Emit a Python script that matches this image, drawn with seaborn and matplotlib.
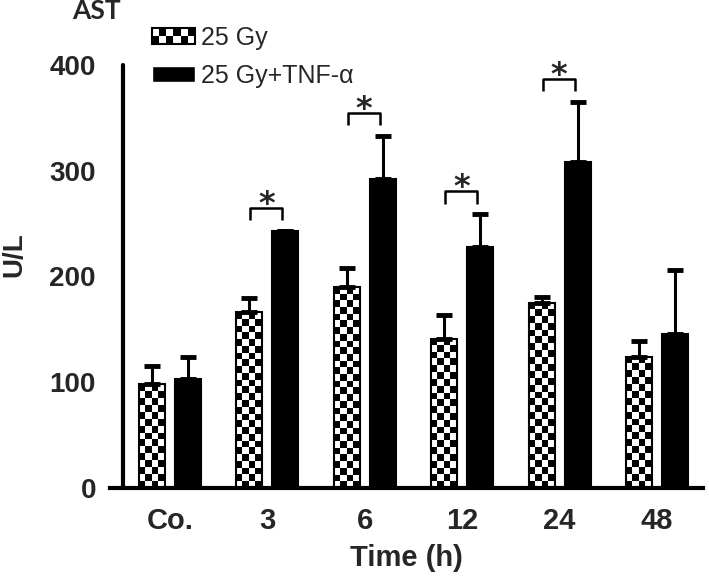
import matplotlib

matplotlib.use("Agg")

import matplotlib.pyplot as plt
import numpy as np
import pandas as pd
import seaborn as sns
from matplotlib.image import BboxImage
from matplotlib.legend_handler import HandlerBase
from matplotlib.patches import Patch, Rectangle
from matplotlib.transforms import Bbox, TransformedBbox


TIMES = ["Co.", "3", "6", "12", "24", "48"]
GROUPS = ["25 Gy", "25 Gy+TNF-α"]
AST_25GY = [98, 166, 190, 141, 175, 124]
SD_25GY = [17, 14, 18, 23, 6, 15]
AST_TNF = [103, 243, 292, 228, 308, 146]
SD_TNF = [21, 0, 41, 31, 57, 60]
SIGNIF = ["", "*", "*", "*", "*", ""]

NARROW = ["Liberation Sans Narrow", "Liberation Sans", "DejaVu Sans"]
CELL_PX = 6.8


def checker(rows, cols):
    r, c = np.indices((rows, cols))
    return ((r + c) % 2).astype(float)


class HandlerChecker(HandlerBase):
    def create_artists(self, legend, orig_handle, xdescent, ydescent,
                       width, height, fontsize, trans):
        box = TransformedBbox(Bbox.from_bounds(-xdescent, -ydescent, width, height), trans)
        img = BboxImage(box, cmap="gray", norm=plt.Normalize(0, 1),
                        interpolation="nearest", origin="lower")
        img.set_data(checker(2, 6))
        edge = Rectangle((-xdescent, -ydescent), width, height, facecolor="none",
                         edgecolor="black", linewidth=1.5, transform=trans)
        return [img, edge]


sns.set_style("white")
plt.rcParams["font.family"] = ["Liberation Sans", "DejaVu Sans"]

df = pd.DataFrame({
    "time": TIMES * 2,
    "group": [GROUPS[0]] * len(TIMES) + [GROUPS[1]] * len(TIMES),
    "ast": AST_25GY + AST_TNF,
})

fig = plt.figure(figsize=(7.09, 5.78), dpi=100)
W, H = 709, 578
ax = fig.add_axes([110 / W, 1 - 488 / H, (703 - 110) / W, (488 - 65) / H])

sns.barplot(data=df, x="time", y="ast", hue="group", order=TIMES, hue_order=GROUPS,
            palette=["white", "black"], saturation=1, width=0.74, gap=0.28,
            errorbar=None, edgecolor="black", linewidth=1.5, legend=False, ax=ax)

xlim = ((110 - 170) / 97.4, (703 - 170) / 97.4)
ax.set_xlim(*xlim)
ax.set_ylim(0, 400)

# checkerboard fill for the 25 Gy bars
px_x = ax.transData.transform((1, 0))[0] - ax.transData.transform((0, 0))[0]
px_y = ax.transData.transform((0, 1))[1] - ax.transData.transform((0, 0))[1]
for bar in ax.containers[0]:
    x0, w, h = bar.get_x(), bar.get_width(), bar.get_height()
    rows = max(1, int(round(h * px_y / CELL_PX)))
    cols = max(1, int(round(w * px_x / CELL_PX)))
    ax.imshow(checker(rows, cols), cmap="gray", vmin=0, vmax=1,
              extent=(x0, x0 + w, 0, h), origin="upper", aspect="auto",
              interpolation="nearest", zorder=1)
    bar.set_facecolor("none")
    bar.set_zorder(2)

# upper error bars
centers = []
for cont, sd in zip(ax.containers[:2], [SD_25GY, SD_TNF]):
    xs = np.array([b.get_x() + b.get_width() / 2 for b in cont])
    tops = np.array([b.get_height() for b in cont])
    centers.append((xs, tops + np.array(sd)))
    ax.errorbar(xs, tops, yerr=[np.zeros(len(sd)), sd], fmt="none", ecolor="black",
                elinewidth=2.2, capsize=5.8, capthick=3.5, zorder=3)

# significance brackets
for i, mark in enumerate(SIGNIF):
    if not mark:
        continue
    xa, xb = centers[0][0][i] + 0.01, centers[1][0][i] - 0.03
    top = max(centers[0][1][i], centers[1][1][i]) + 22
    ax.plot([xa, xa, xb, xb], [top - 12, top, top, top - 12], color="black",
            linewidth=1.8, solid_capstyle="butt", clip_on=False)
    ax.text((xa + xb) / 2, top - 5, mark, ha="center", va="baseline", fontsize=23,
            fontweight="bold", family="DejaVu Sans")

ax.set_xlim(*xlim)
ax.set_ylim(0, 400)

sns.despine(ax=ax)
ax.spines["left"].set_position(("axes", 13 / 593))
for side in ["left", "bottom"]:
    ax.spines[side].set_linewidth(3)
    ax.spines[side].set_color("black")
ax.spines["left"].set_capstyle("round")

ax.set_yticks([0, 100, 200, 300, 400])
ax.tick_params(axis="y", length=9.5, width=2.8, pad=10, labelsize=20, color="black")
ax.tick_params(axis="x", length=0, pad=14, labelsize=21)
for lab in ax.get_yticklabels() + ax.get_xticklabels():
    lab.set_fontweight("bold")
    lab.set_family(NARROW)

ax.set_xlabel("Time (h)", fontsize=21, fontweight="bold", family=NARROW, labelpad=6)
ax.set_ylabel("")
fig.text(14 / W, 1 - 255 / H, "U/L", rotation=90, ha="center", va="center",
         fontsize=20, fontweight="bold", family=NARROW)
fig.text(72 / W, 1 - 11 / H, "AST", ha="left", va="center", fontsize=19,
         fontweight="bold", family=["Lato", "DejaVu Sans"])

handles = [Patch(facecolor="white", edgecolor="black"), Patch(facecolor="black")]
fig.legend(handles, GROUPS, loc="upper left", bbox_to_anchor=(152 / W, 1 - 26 / H),
           frameon=False, fontsize=18, handlelength=1.72, handleheight=0.62,
           handletextpad=0.25, labelspacing=0.55, borderpad=0, borderaxespad=0,
           handler_map={handles[0]: HandlerChecker()})

fig.savefig("out.png", dpi=100)
